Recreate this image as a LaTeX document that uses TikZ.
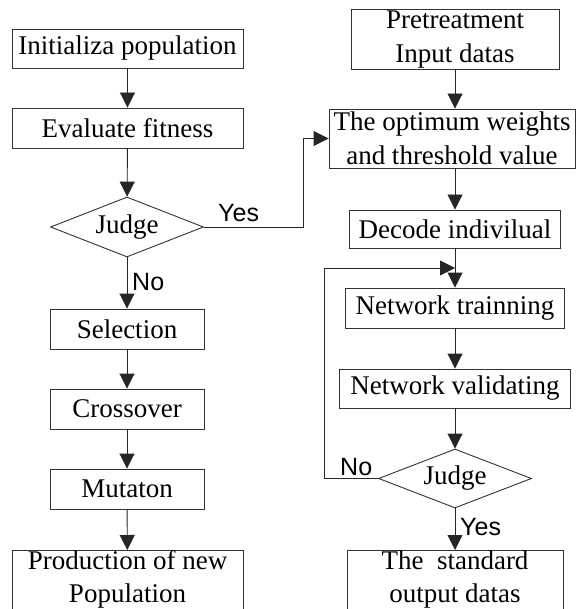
\documentclass[tikz,border=0pt]{standalone}
\usepackage{fontspec}
\setmainfont{Liberation Serif}
\newfontfamily\labelfont{Liberation Sans}
\usetikzlibrary{shapes.geometric,arrows.meta}
\begin{document}
\begin{tikzpicture}[x=1pt,y=-1pt,
  box/.style={draw=black!80,line width=0.9pt,rectangle,inner sep=0pt,align=center,
    font=\fontsize{27}{34}\selectfont},
  cutbox/.style={box,anchor=north,font=\fontsize{27}{33}\selectfont,text depth=14pt},
  judgebox/.style={draw=black!80,line width=0.9pt,diamond,shape aspect=2.55,inner sep=0pt,
    minimum width=153pt,minimum height=60pt,font=\fontsize{27}{34}\selectfont},
  arr/.style={draw=black!85,line width=0.9pt,-{Triangle[length=15pt,width=15pt]}},
  lbl/.style={font=\labelfont\fontsize{25}{30}\selectfont,inner sep=0pt,anchor=base west}]
\clip (0,0) rectangle (576,609);
\fill[white] (0,0) rectangle (576,609);
% left column
\node[box,minimum width=231pt,minimum height=39pt] (init) at (127.5,48.5) {Initializa population};
\node[box,minimum width=231pt,minimum height=40pt] (eval) at (127.5,128) {Evaluate fitness};
\node[judgebox] (judge1) at (127,227) {Judge};
\node[box,minimum width=154pt,minimum height=40pt] (sel) at (127,329) {Selection};
\node[box,minimum width=154pt,minimum height=40pt] (cross) at (127,409) {Crossover};
\node[box,minimum width=154pt,minimum height=40pt] (mut) at (127,489) {Mutaton};
\node[cutbox,minimum width=231pt] (prod) at (127.5,550) {Production of new\\Population};
% right column
\node[box,minimum width=208pt,minimum height=60pt] (pre) at (455,39.5) {Pretreatment\\Input datas};
\node[box,minimum width=246pt,minimum height=59pt] (opt) at (452,138.5) {The optimum weights\\and threshold value};
\node[box,minimum width=211pt,minimum height=38pt] (dec) at (455,229) {Decode indivilual};
\node[box,minimum width=219pt,minimum height=40pt] (train) at (455,308) {Network trainning};
\node[box,minimum width=231pt,minimum height=39pt] (valid) at (455,388.5) {Network validating};
\node[judgebox,minimum height=59pt] (judge2) at (455,478.5) {Judge};
\node[cutbox,minimum width=216pt] (out) at (455,550) {The\ \ standard\\output datas};
% left connectors
\draw[arr] (init) -- (eval);
\draw[arr] (eval) -- (judge1);
\draw[arr] (judge1) -- (sel);
\draw[arr] (sel) -- (cross);
\draw[arr] (cross) -- (mut);
\draw[arr] (mut) -- (prod);
% yes branch
\draw[arr] (judge1.east) -- ++(99,0) |- (opt.west);
% right connectors
\draw[arr] (pre.south) -- (pre.south |- opt.north);
\draw[arr] (opt.south -| dec.north) -- (dec.north);
\draw[arr] (dec) -- (train);
\draw[arr] (train) -- (valid);
\draw[arr] (valid) -- (judge2);
\draw[arr] (judge2) -- (out);
\path (dec.south) -- (train.north) coordinate[pos=0.5] (merge);
\draw[arr] (judge2.west) -- ++(-54,0) |- (merge);
% labels
\node[lbl] (yes1) at (218,222) {Yes};
\node[lbl] (no1) at (132,290) {No};
\node[lbl] (no2) at (340,475) {No};
\node[lbl] (yes2) at (460,535) {Yes};
\end{tikzpicture}
\end{document}
